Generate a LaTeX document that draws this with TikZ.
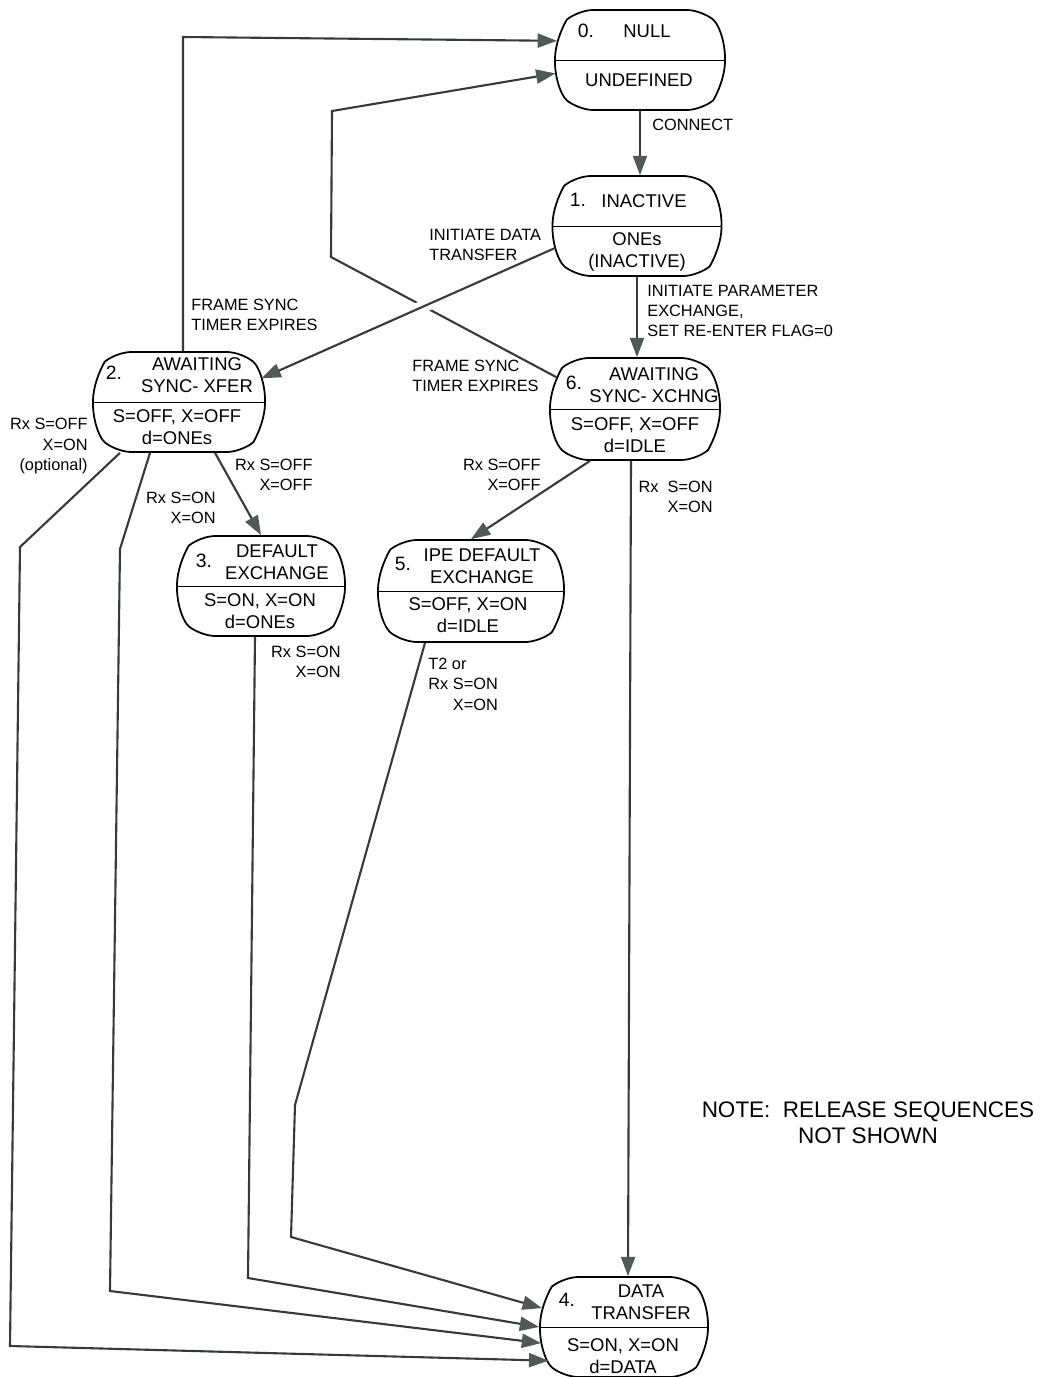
\documentclass[tikz,border=0pt]{standalone}
\usepackage{fontspec}
\setmainfont{Liberation Sans}
\usetikzlibrary{arrows.meta,shapes.misc}
\definecolor{linegray}{RGB}{55,58,57}
\definecolor{tipgray}{RGB}{78,90,86}
\tikzset{
  state/.style={draw, line width=1pt, rounded rectangle, rounded rectangle arc length=100,
    rounded corners=3mm, minimum width=34mm, minimum height=20mm, inner sep=0pt},
  stxt/.style={font=\fontsize{10.5}{12.5}\selectfont, align=center, inner sep=0pt},
  snum/.style={font=\fontsize{11}{13}\selectfont, inner sep=0pt},
  lbl/.style={font=\fontsize{9.3}{11.6}\selectfont, inner sep=0pt},
  note/.style={font=\fontsize{12.8}{14.8}\selectfont, align=center, inner sep=0pt},
  conn/.style={draw=linegray, line width=1.2pt,
    -{Triangle[length=11pt,width=8pt,color=tipgray]}}
}
\begin{document}
\begin{tikzpicture}[x=0.2mm,y=-0.2mm]
	\useasboundingbox (0,0) rectangle (1043,1377);
	% states
	\node[state] (s0) at (640,60) {};
	\draw (s0.west) -- (s0.east);
	\node[snum] (s0n) at (586,31) {0.};
	\node[stxt] (s0t) at (647,31) {NULL};
	\node[stxt] (s0b) at (639,80) {UNDEFINED};

	\node[state, minimum width=33.8mm] (s1) at (637,226) {};
	\draw (s1.west) -- (s1.east);
	\node[snum] (s1n) at (578,200) {1.};
	\node[stxt] (s1t) at (644,201) {INACTIVE};
	\node[stxt] (s1b) at (637,252) {ONEs\\(INACTIVE)};

	\node[state, minimum width=34.4mm] (s2) at (179,402) {};
	\draw (s2.west) -- (s2.east);
	\node[snum] (s2n) at (114,373) {2.};
	\node[stxt] (s2t) at (197,375) {AWAITING\\SYNC- XFER};
	\node[stxt] (s2b) at (177,427) {S=OFF, X=OFF\\d=ONEs};

	\node[state, minimum height=20.4mm] (s6) at (635,409) {};
	\draw (s6.west) -- (s6.east);
	\node[snum] (s6n) at (574,383) {6.};
	\node[stxt] (s6t) at (654,385) {AWAITING\\SYNC- XCHNG};
	\node[stxt] (s6b) at (635,435) {S=OFF, X=OFF\\d=IDLE};

	\node[state, minimum width=33.6mm] (s3) at (261,586) {};
	\draw (s3.west) -- (s3.east);
	\node[snum] (s3n) at (204,561) {3.};
	\node[stxt] (s3t) at (277,562) {DEFAULT\\EXCHANGE};
	\node[stxt] (s3b) at (260,611) {S=ON, X=ON\\d=ONEs};

	\node[state, minimum width=37.2mm, minimum height=20.4mm] (s5) at (471,591) {};
	\draw (s5.west) -- (s5.east);
	\node[snum] (s5n) at (403,564) {5.};
	\node[stxt] (s5t) at (482,566) {IPE DEFAULT\\EXCHANGE};
	\node[stxt] (s5b) at (468,615) {S=OFF, X=ON\\d=IDLE};

	\node[state, minimum width=33.6mm] (s4) at (624,1327) {};
	\draw (s4.west) -- (s4.east);
	\node[snum] (s4n) at (567,1300) {4.};
	\node[stxt] (s4t) at (641,1302) {DATA\\TRANSFER};
	\node[stxt] (s4b) at (623,1356) {S=ON, X=ON\\d=DATA};

	% transitions
	\draw[conn] (s0.south) -- (s0.south |- s1.north);
	\draw[conn] (s2.north -| 183,0) -- (183,37) -- (s0.167);
	\draw[conn] (s6.158) -- (331,257) -- (332,111) -- (s0.189);
	\draw[conn, preaction={draw=white, line width=7pt, -, shorten <=15pt, shorten >=15pt}]
		(s1.195) -- (s2.16);
	\draw[conn] (s1.south) -- (s1.south |- s6.north);
	\draw[conn] (s2.south -| 215,0) -- (s3.north);
	\draw[conn] (s6.south -| 590,0) -- (s5.north);
	\draw[conn] (s6.south -| 631,0) -- (s4.north -| 628,0);
	\draw[conn] (s2.south -| 120,0) -- (20,547) -- (10,1346) -- (s4.204);
	\draw[conn] (s2.south -| 150,0) -- (120,549) -- (110,1291) -- (s4.191);
	\draw[conn] (s3.south -| 255,0) -- (248,1278) -- (s4.west);
	\draw[conn] (s5.south -| 425,0) -- (295,1105) -- (291,1237) -- (s4.167);

	% labels
	\node[lbl, anchor=west] (l01) at (652,125) {CONNECT};
	\node[lbl, anchor=west, align=left] (l20) at (191,315) {FRAME SYNC\\TIMER EXPIRES};
	\node[lbl, anchor=west, align=left] (l60) at (412,376) {FRAME SYNC\\TIMER EXPIRES};
	\node[lbl, anchor=west, align=left] (l12) at (429,245) {INITIATE DATA\\TRANSFER};
	\node[lbl, anchor=west, align=left] (l16) at (647,311) {INITIATE PARAMETER\\EXCHANGE,\\SET RE-ENTER FLAG=0};
	\node[lbl, anchor=east, align=right] (l23) at (313,475) {Rx S=OFF\\X=OFF};
	\node[lbl, anchor=east, align=right] (l65) at (541,475) {Rx S=OFF\\X=OFF};
	\node[lbl, anchor=east, align=right] (l64) at (713,497) {Rx\ \ S=ON\\X=ON};
	\node[lbl, anchor=east, align=right] (l24a) at (88,446) {Rx S=OFF\\X=ON\\(optional)};
	\node[lbl, anchor=east, align=right] (l24b) at (216,508) {Rx S=ON\\X=ON};
	\node[lbl, anchor=east, align=right] (l34) at (341,662) {Rx S=ON\\X=ON};
	\node[lbl, anchor=west, align=left] (l54) at (428,684) {T2 or\\Rx S=ON\\\hphantom{Rx }X=ON};
	\node[note] (rel) at (868,1123) {NOTE:\ \ RELEASE SEQUENCES\\NOT SHOWN};
\end{tikzpicture}
\end{document}
